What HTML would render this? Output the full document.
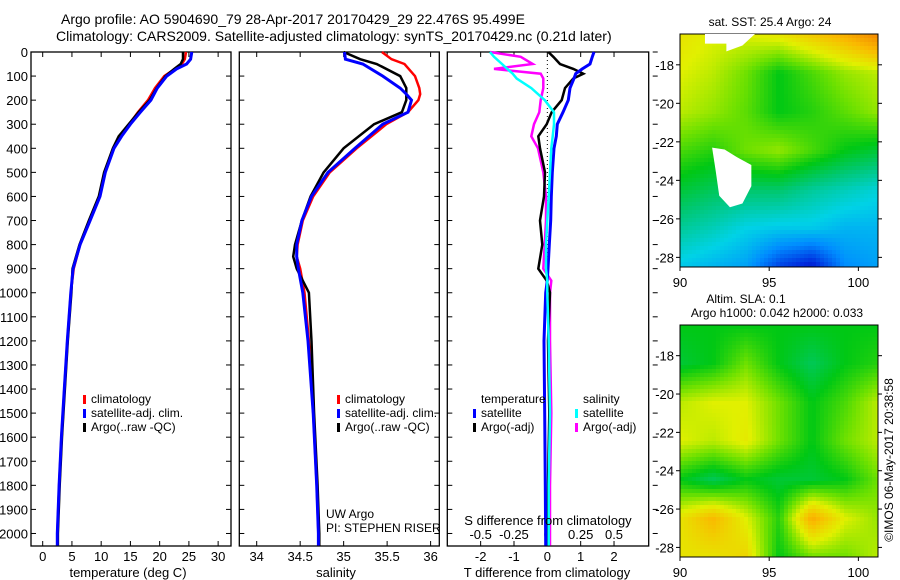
<!DOCTYPE html>
<html><head><meta charset="utf-8">
<style>
html,body{margin:0;padding:0;background:#fff;}
svg{display:block;font-family:"Liberation Sans",sans-serif;}
text{fill:#000;}
</style></head>
<body>
<svg id="fig" width="900" height="580" viewBox="0 0 900 580">
<g font-size="14">
<text x="61" y="24">Argo profile: AO 5904690_79 28-Apr-2017 20170429_29 22.476S 95.499E</text>
<text x="56" y="41">Climatology: CARS2009. Satellite-adjusted climatology: synTS_20170429.nc (0.21d later)</text>
</g>
<g id="p1"></g>
<g id="p2"></g>
<g id="p3"></g>
<g id="m1"></g>
<g id="m2"></g>
<text font-size="12" transform="translate(893,460) rotate(-90)" text-anchor="middle">©IMOS 06-May-2017 20:38:58</text>
</svg>
<script>
// ---- data ----
const depthTicks=[0,100,200,300,400,500,600,700,800,900,1000,1100,1200,1300,1400,1500,1600,1700,1800,1900,2000];
const tempTicks=[0,5,10,15,20,25,30];
const salTicks=[34,34.5,35,35.5,36];
const tdiffTicks=[-2,-1,0,1,2];
const sdiffTicks=[-0.5,-0.25,0,0.25,0.5];
const sdiffTickLabels=["-0.5","-0.25","0","0.25","0.5"];

const tDepth=[0,30,50,70,100,150,200,250,300,350,400,500,600,700,800,900,1000,1200,1400,1600,1800,2000,2050];
const tClim=[24.5,24.3,23.8,22.6,20.8,19.2,18.0,16.3,14.8,13.3,12.1,10.6,9.7,8.1,6.4,5.3,4.8,4.2,3.7,3.2,2.8,2.5,2.5];
const tSat=[25.5,25.3,24.6,22.9,21.2,19.6,18.5,16.7,15.0,13.5,12.2,10.7,9.8,8.1,6.4,5.2,4.8,4.2,3.7,3.2,2.8,2.5,2.5];
const tArgo=[24.0,24.0,23.6,22.5,21.0,19.5,18.3,16.4,14.7,13.0,12.0,10.5,9.6,7.9,6.3,5.1,4.9,4.3,3.8,3.3,2.9,2.6,2.6];

const sDepth=[0,30,50,100,150,175,200,250,300,400,500,600,700,800,850,900,1000,1200,1500,1800,2000,2050];
const sClim=[35.44,35.55,35.70,35.82,35.87,35.88,35.86,35.74,35.49,35.15,34.84,34.65,34.53,34.47,34.46,34.50,34.55,34.60,34.65,34.69,34.71,34.72];
const sSat=[35.01,35.02,35.22,35.45,35.65,35.72,35.78,35.74,35.45,35.13,34.82,34.63,34.52,34.46,34.46,34.48,34.53,34.59,34.65,34.69,34.71,34.71];
const sArgo=[35.00,35.19,35.38,35.65,35.72,35.72,35.72,35.67,35.35,35.00,34.77,34.62,34.52,34.44,34.42,34.46,34.60,34.63,34.66,34.70,34.72,34.72];

const dDepth=[0,20,50,70,90,110,150,200,250,300,350,400,500,600,700,800,900,950,1000,1200,1500,1800,2050];
const dTSat=[1.40,1.35,1.28,1.05,0.85,0.80,0.68,0.63,0.47,0.30,0.27,0.20,0.15,0.12,0.10,0.06,0.02,0.0,-0.05,-0.10,-0.08,-0.06,-0.05];
const dTArgo=[0.03,0.18,0.38,0.78,1.08,0.78,0.53,0.43,0.13,-0.02,-0.27,-0.22,-0.07,-0.10,-0.22,-0.15,-0.27,-0.02,0.08,0.02,0.06,0.02,0.0];
const dSSat=[-0.43,-0.40,-0.34,-0.30,-0.26,-0.23,-0.12,-0.02,0.05,0.05,0.04,0.03,0.02,0.01,0.0,-0.01,-0.01,0.0,0.0,0.01,0.02,0.01,0.01];
const dSArgo=[-0.43,-0.20,-0.11,-0.40,-0.05,-0.03,-0.03,-0.05,-0.06,-0.10,-0.12,-0.07,-0.03,-0.01,-0.01,-0.02,-0.03,0.03,0.02,0.02,0.03,0.02,0.02];

const sstGrid=[
[.64,.62,.62,.64,.68,.72,.78],
[.62,.60,.56,.50,.54,.58,.60],
[.60,.58,.55,.50,.52,.55,.58],
[.54,.52,.56,.58,.54,.50,.48],
[.48,.46,.45,.45,.42,.40,.38],
[.42,.40,.37,.36,.36,.34,.34],
[.36,.34,.32,.24,.20,.30,.32]];
const slaGrid=[
[.50,.50,.50,.50,.50,.50,.50],
[.48,.50,.56,.50,.46,.50,.52],
[.60,.62,.62,.56,.50,.54,.60],
[.62,.60,.63,.56,.50,.56,.60],
[.50,.46,.50,.48,.48,.50,.56],
[.64,.70,.62,.52,.72,.62,.58],
[.64,.64,.66,.50,.56,.56,.60]];

// ---- helpers ----
const NS="http://www.w3.org/2000/svg";
function mk(tag,attrs,parent){const e=document.createElementNS(NS,tag);for(const k in attrs)e.setAttribute(k,attrs[k]);parent.appendChild(e);return e;}
function txt(s,x,y,parent,anchor,size){const t=mk('text',{x:x,y:y,'font-size':size||12,'text-anchor':anchor||'start'},parent);t.textContent=s;return t;}
const yTop=52, yBot=546, dMax=2052;
const yD=d=>yTop+(d/dMax)*(yBot-yTop);

function panel(g,x0,x1,xmin,xmax){
  const xs=v=>x0+(v-xmin)/(xmax-xmin)*(x1-x0);
  const fr=mk('rect',{x:x0,y:yTop,width:x1-x0,height:yBot-yTop,fill:'none',stroke:'#000','stroke-width':1.3},g);
  
  
  return xs;
}
function line(g,xs,xv,dv,color,w,name){
  const pts=xv.map((v,i)=>xs(v).toFixed(1)+','+yD(dv[i]).toFixed(1)).join(' ');
  const p=mk('polyline',{points:pts,fill:'none',stroke:color,'stroke-width':w,'stroke-linejoin':'miter'},g);
  
  
}
function depthTicksDraw(g,x0,x1,labels,outRight){
  depthTicks.forEach(d=>{
    const y=yD(d);
    mk('line',{x1:x0,y1:y,x2:x0+5,y2:y,stroke:'#000'},g);
    if(outRight) mk('line',{x1:x1+4,y1:y,x2:x1+9,y2:y,stroke:'#000'},g);
    else mk('line',{x1:x1-5,y1:y,x2:x1,y2:y,stroke:'#000'},g);
    if(labels){const t=txt(String(d),28,y+5,g,'end',13);
      
      }
  });
}
function xTicks(g,xs,ticks,labs,yl){
  ticks.forEach((v,i)=>{
    const x=xs(v);
    mk('line',{x1:x,y1:yBot,x2:x,y2:yBot-5,stroke:'#000'},g);
    mk('line',{x1:x,y1:yTop,x2:x,y2:yTop+5,stroke:'#000'},g);
    const t=txt(labs?labs[i]:String(v),x,yl,g,'middle',13);
    
    
  });
}
function legendEntry(g,x,y,color,label){
  const r=mk('rect',{x:x,y:y-8,width:3,height:9,fill:color},g);
  
  
  const t=txt(label,x+8,y,g,'start',12);
  
  
}

// ---- panel 1 ----
const g1=document.getElementById('p1');
const xs1=panel(g1,31,231,-2.0,32.2);
depthTicksDraw(g1,31,231,true,false);
xTicks(g1,xs1,tempTicks,null,561);
line(g1,xs1,tClim,tDepth,'#f00',2.5,'temp-climatology-line');
line(g1,xs1,tArgo,tDepth,'#000',2.5,'temp-argo-line');
line(g1,xs1,tSat,tDepth,'#00f',3,'temp-satellite-line');
{const t=txt('temperature (deg C)',128,577,g1,'middle',13);}
legendEntry(g1,83,403,'#f00','climatology');
legendEntry(g1,83,417,'#00f','satellite-adj. clim.');
legendEntry(g1,83,431,'#000','Argo(..raw -QC)');

// ---- panel 2 ----
const g2=document.getElementById('p2');
const xs2=panel(g2,239.3,439.3,33.80,36.10);
depthTicksDraw(g2,239.3,439.3,false,false);
xTicks(g2,xs2,salTicks,null,561);
line(g2,xs2,sClim,sDepth,'#f00',2.5,'sal-climatology-line');
line(g2,xs2,sArgo,sDepth,'#000',2.5,'sal-argo-line');
line(g2,xs2,sSat,sDepth,'#00f',3,'sal-satellite-line');
{const t=txt('salinity',336,577,g2,'middle',13);}
legendEntry(g2,337,403,'#f00','climatology');
legendEntry(g2,337,417,'#00f','satellite-adj. clim.');
legendEntry(g2,337,431,'#000','Argo(..raw -QC)');
{const t=txt('UW Argo',326,518,g2,'start',12);
 const t2=txt('PI: STEPHEN RISER',326,532,g2,'start',12);}

// ---- panel 3 ----
const g3=document.getElementById('p3');
const xs3=panel(g3,447.3,648.7,-3.0,3.04);
const xs3s=v=>xs3(v*4);
depthTicksDraw(g3,447.3,648.7,false,true);
xTicks(g3,xs3,tdiffTicks,null,561);
sdiffTicks.forEach((v,i)=>{const t=txt(sdiffTickLabels[i],xs3s(v),539,g3,'middle',13);});
{const z=mk('line',{x1:xs3(0),y1:yTop,x2:xs3(0),y2:yD(1000),stroke:'#000','stroke-dasharray':'1,3'},g3);}
line(g3,xs3s,dSArgo,dDepth,'#f0f',2.5,'sal-diff-argo-line');
line(g3,xs3,dTArgo,dDepth,'#000',2.5,'temp-diff-argo-line');
line(g3,xs3,dTSat,dDepth,'#00f',3,'temp-diff-satellite-line');
line(g3,xs3s,dSSat,dDepth,'#0ff',2.5,'sal-diff-satellite-line');
{const t=txt('S difference from climatology',548,525,g3,'middle',13);
 const t2=txt('T difference from climatology',547,577,g3,'middle',13);
 const a=txt('temperature',481,403,g3,'start',12);
 const b=txt('salinity',583,403,g3,'start',12);}
legendEntry(g3,473,417,'#00f','satellite');
legendEntry(g3,473,431,'#000','Argo(-adj)');
legendEntry(g3,575,417,'#0ff','satellite');
legendEntry(g3,575,431,'#f0f','Argo(-adj)');

// ---- maps ----
const cstops=[[0.15,[0,0,140]],[0.22,[0,40,220]],[0.3,[0,140,255]],[0.37,[0,210,230]],[0.44,[0,200,120]],[0.5,[0,200,20]],[0.56,[110,225,0]],[0.62,[225,240,0]],[0.7,[250,185,0]],[0.8,[240,120,0]],[0.9,[220,40,0]]];
function cmap(v){
  if(v<=cstops[0][0])return 'rgb('+cstops[0][1]+')';
  for(let i=1;i<cstops.length;i++){if(v<=cstops[i][0]){const a=cstops[i-1],b=cstops[i],f=(v-a[0])/(b[0]-a[0]);
    return 'rgb('+a[1].map((c,k)=>Math.round(c+(b[1][k]-c)*f)).join(',')+')';}}
  return 'rgb('+cstops[cstops.length-1][1]+')';
}
function drawMap(g,grid,x0,x1,y0,y1,labY){
  const lonMin=90,lonMax=101.1, latTop=-16.4, latBot=-28.5;
  const xL=lon=>x0+(lon-lonMin)/(lonMax-lonMin)*(x1-x0);
  const yL=lat=>y0+(latTop-lat)/(latTop-latBot)*(y1-y0);
  const nr=grid.length,nc=grid[0].length,cs=4;
  for(let y=y0;y<y1;y+=cs){for(let x=x0;x<x1;x+=cs){
    const fx=(x+cs/2-x0)/(x1-x0)*(nc-1), fy=(y+cs/2-y0)/(y1-y0)*(nr-1);
    const i=Math.min(nc-2,Math.floor(fx)), j=Math.min(nr-2,Math.floor(fy)), u=fx-i, w=fy-j;
    const v=grid[j][i]*(1-u)*(1-w)+grid[j][i+1]*u*(1-w)+grid[j+1][i]*(1-u)*w+grid[j+1][i+1]*u*w;
    mk('rect',{x:x,y:y,width:Math.min(cs,x1-x),height:Math.min(cs,y1-y),fill:cmap(v)},g);
  }}
  mk('rect',{x:x0,y:y0,width:x1-x0,height:y1-y0,fill:'none',stroke:'#000'},g);
  [-18,-20,-22,-24,-26,-28].forEach(lat=>{const y=yL(lat);
    mk('line',{x1:x0-4,y1:y,x2:x0,y2:y,stroke:'#000'},g);mk('line',{x1:x1,y1:y,x2:x1+4,y2:y,stroke:'#000'},g);
    const t=txt(String(lat),x0-6,y+5,g,'end',13);});
  [90,95,100].forEach(lon=>{const x=xL(lon);
    mk('line',{x1:x,y1:y1,x2:x,y2:y1+4,stroke:'#000'},g);
    const t=txt(String(lon),x,labY,g,'middle',13);});
  return {xL,yL};
}
const gm1=document.getElementById('m1');
const m1=drawMap(gm1,sstGrid,680,878,34,267,287);
{const p=mk('polygon',{points:[[92.5,-22.4],[93.2,-22.8],[94.0,-23.2],[94.0,-24.3],[93.5,-25.2],[92.8,-25.4],[92.2,-24.8],[92.0,-23.5],[91.8,-22.3]].map(a=>m1.xL(a[0])+','+m1.yL(a[1])).join(' '),fill:'#fff'},gm1);
 
 const p2=mk('polygon',{points:[[91.4,-16.4],[94.2,-16.4],[93.5,-17.0],[92.6,-17.3],[92.6,-16.9],[91.4,-16.9]].map(a=>m1.xL(a[0])+','+m1.yL(a[1])).join(' '),fill:'#fff'},gm1);
 
 const t=txt('sat. SST: 25.4 Argo: 24',770,26,gm1,'middle',12);}
const gm2=document.getElementById('m2');
drawMap(gm2,slaGrid,680,878,325,557,577);
{const t=txt('Altim. SLA: 0.1',746,303,gm2,'middle',12);
 const t2=txt('Argo h1000: 0.042 h2000: 0.033',777,317,gm2,'middle',12);}
</script>
</body></html>
